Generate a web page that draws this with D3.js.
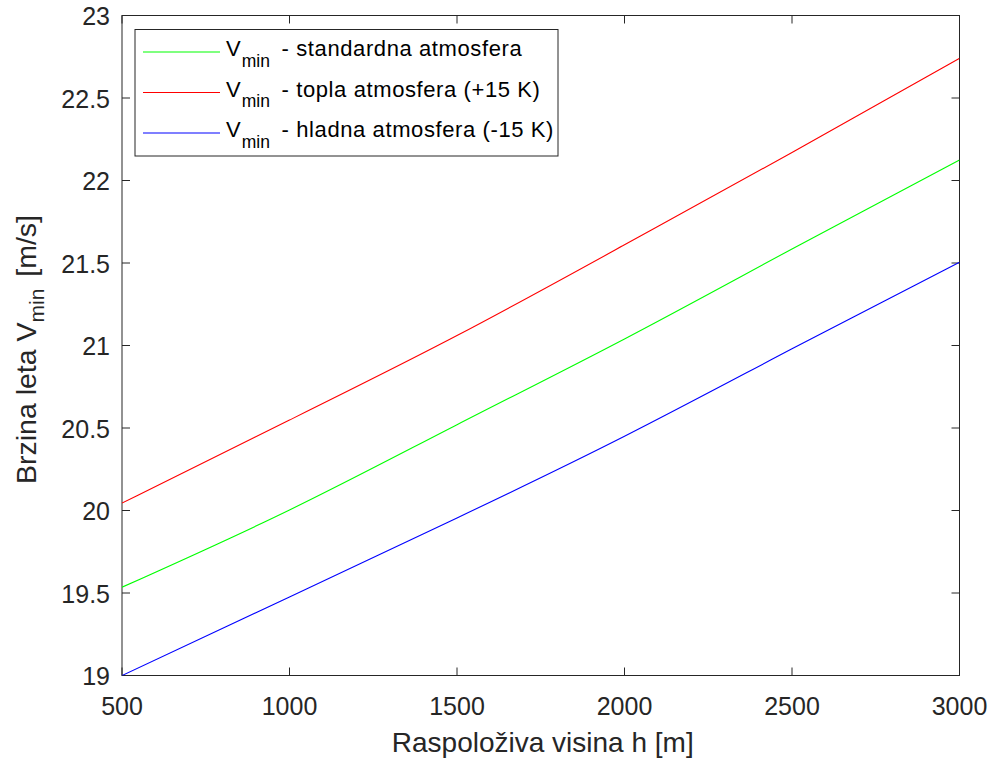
<!DOCTYPE html>
<html><head><meta charset="utf-8">
<script src="https://cdn.jsdelivr.net/npm/d3@7"></script>
<style>body{margin:0;background:#fff;} svg{display:block;font-family:"Liberation Sans",Arial,sans-serif;}</style>
</head><body>
<script>
const heights = [500, 1000, 1500, 2000, 2500, 3000];
const vStandard = [19.535, 20.003, 20.52, 21.04, 21.585, 22.124];
const vWarm = [20.045, 20.548, 21.06, 21.61, 22.17, 22.74];
const vCold = [19.0, 19.476, 19.955, 20.45, 20.98, 21.505];
const xTicks = [500, 1000, 1500, 2000, 2500, 3000];
const yTicks = [19, 19.5, 20, 20.5, 21, 21.5, 22, 22.5, 23];
const seriesNames = ["standardna atmosfera", "topla atmosfera (+15 K)", "hladna atmosfera (-15 K)"];
const seriesColors = ["#00ff00", "#ff0000", "#0000ff"];

const W = 992, H = 760;
const L = 122, R = 959.5, T = 15.5, B = 675.5;
const svg = d3.select("body").append("svg").attr("width", W).attr("height", H);
const x = d3.scaleLinear().domain([500, 3000]).range([L, R]);
const y = d3.scaleLinear().domain([19, 23]).range([B, T]);
const axisColor = "#262626";
const tickLen = 8;

svg.append("rect").attr("x", L).attr("y", T).attr("width", R - L).attr("height", B - T)
  .attr("fill", "#fff").attr("stroke", axisColor).attr("stroke-width", 1);

const g = svg.append("g").attr("stroke", axisColor).attr("stroke-width", 1);
xTicks.forEach(v => {
  g.append("line").attr("x1", x(v)).attr("x2", x(v)).attr("y1", B).attr("y2", B - tickLen);
  g.append("line").attr("x1", x(v)).attr("x2", x(v)).attr("y1", T).attr("y2", T + tickLen);
});
yTicks.forEach(v => {
  g.append("line").attr("y1", y(v)).attr("y2", y(v)).attr("x1", L).attr("x2", L + tickLen);
  g.append("line").attr("y1", y(v)).attr("y2", y(v)).attr("x1", R).attr("x2", R - tickLen);
});

svg.append("g").selectAll("text").data(xTicks).join("text")
  .attr("x", d => x(d)).attr("y", B + 39.5).attr("text-anchor", "middle")
  .attr("font-size", 25).attr("fill", axisColor).text(d => d);
svg.append("g").selectAll("text").data(yTicks).join("text")
  .attr("x", L - 12).attr("y", d => y(d) + 9.5).attr("text-anchor", "end")
  .attr("font-size", 25).attr("fill", axisColor).text(d => d);

svg.append("text").attr("x", (L + R) / 2 + 2).attr("y", 752).attr("text-anchor", "middle")
  .attr("font-size", 28).attr("fill", axisColor).text("Raspoloživa visina h [m]");
const yl = svg.append("text").attr("transform", `translate(36,${(T + B) / 2 + 4}) rotate(-90)`)
  .attr("text-anchor", "middle").attr("font-size", 28.5).attr("fill", axisColor);
yl.append("tspan").text("Brzina leta V");
yl.append("tspan").attr("font-size", 21).attr("dy", 8).text("min");
yl.append("tspan").attr("dy", -8).attr("dx", 4).text(" [m/s]");

const line = d3.line().x((d, i) => x(heights[i])).y(d => y(d)).curve(d3.curveNatural);
const allSeries = [vStandard, vWarm, vCold];
svg.append("clipPath").attr("id", "c").append("rect")
  .attr("x", L).attr("y", T).attr("width", R - L).attr("height", B - T);
allSeries.forEach((s, i) => {
  svg.append("path").attr("d", line(s)).attr("fill", "none")
    .attr("stroke", seriesColors[i]).attr("stroke-width", 1.1).attr("clip-path", "url(#c)");
});

const lg = svg.append("g");
lg.append("rect").attr("x", 135).attr("y", 29.5).attr("width", 423).attr("height", 126.5)
  .attr("fill", "#fff").attr("stroke", axisColor).attr("stroke-width", 1);
const rowY = [52, 92.5, 133];
seriesNames.forEach((n, i) => {
  lg.append("line").attr("x1", 143).attr("x2", 220).attr("y1", rowY[i]).attr("y2", rowY[i])
    .attr("stroke", seriesColors[i]).attr("stroke-width", 1.1);
  const t = lg.append("text").attr("x", 226).attr("y", rowY[i] + 4)
    .attr("font-size", 22).attr("fill", "#000");
  t.append("tspan").text("V");
  t.append("tspan").attr("font-size", 17.5).attr("dy", 10.5).attr("dx", 1).text("min");
  t.append("tspan").attr("dy", -10.5).attr("dx", 5).attr("letter-spacing", 0.6).text(" - " + n);
});
</script>
</body></html>
